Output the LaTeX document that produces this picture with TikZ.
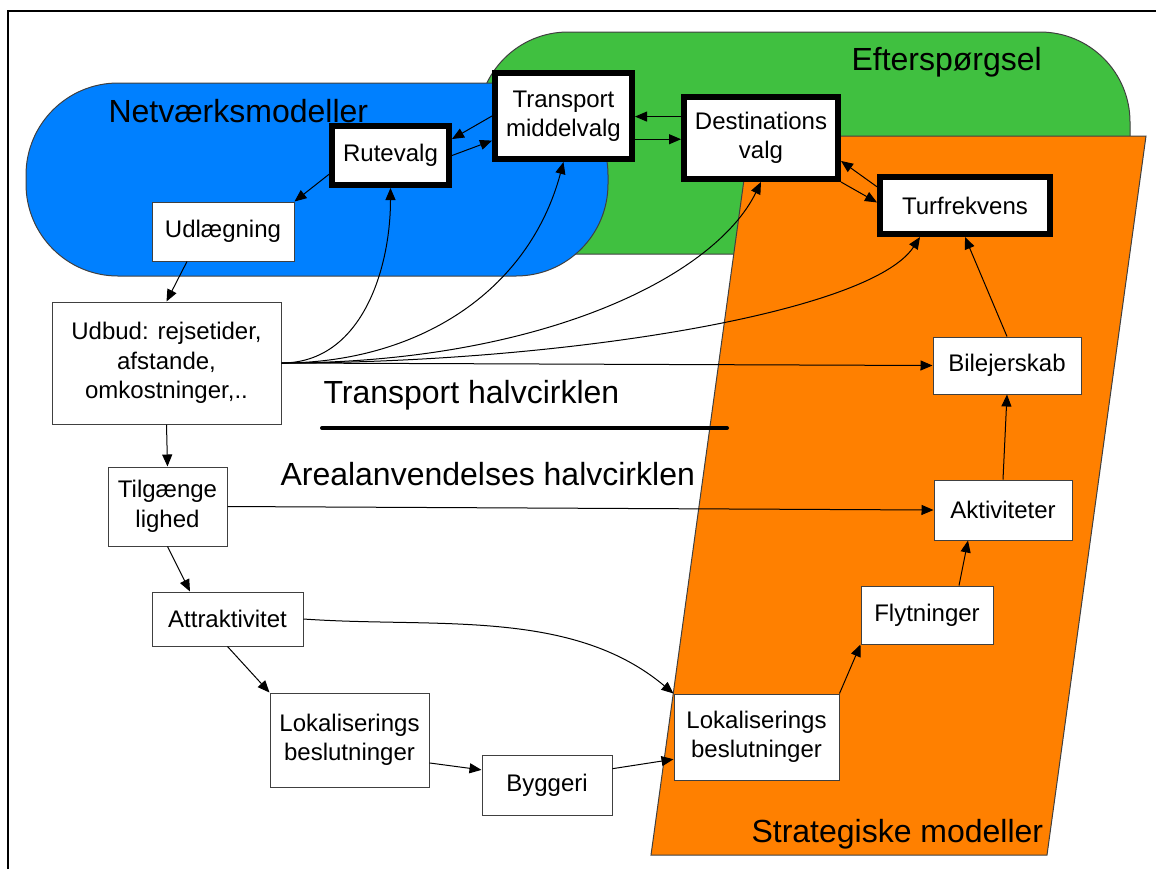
\documentclass[tikz,border=0pt]{standalone}
\usepackage{fontspec}
\setmainfont{Liberation Sans}
\usetikzlibrary{positioning, arrows.meta, calc}
\definecolor{net-blue}{RGB}{0,128,255}
\definecolor{eft-green}{RGB}{64,192,64}
\definecolor{strat-orange}{RGB}{255,128,0}
\definecolor{line-gray}{RGB}{64,64,64}

\tikzset{
  box/.style={draw=line-gray, line width=0.5pt, fill=white, inner sep=0pt, align=center,
    font=\fontsize{12}{14.75}\selectfont},
  bigbox/.style={box, draw=black, line width=3pt},
  area/.style={draw=line-gray, line width=0.5pt},
  title/.style={anchor=base west, inner sep=0pt, font=\fontsize{16}{19}\selectfont},
}

\begin{document}
\begin{tikzpicture}[x=0.5pt, y=0.5pt, line width=0.5pt, >={Triangle[length=6pt,width=5pt]}]
\useasboundingbox (0,-869) rectangle (1156,0);
% areas
\draw[area, fill=eft-green, rounded corners=45pt] (478,-32) rectangle (1130,-254);
\draw[area, fill=net-blue, rounded corners=46pt] (26,-83) rectangle (608,-276);
\draw[area, fill=strat-orange] (750,-136) -- (1146,-136) -- (1047,-855) -- (651,-855) -- cycle;
\draw[line width=1.2pt] (8,-869) -- (8,-11) -- (1156,-11);

\node[title] (netvaerk) at (108,-122) {Netværksmodeller};
\node[title] (efterspoergsel) at (851,-70) {Efterspørgsel};
\node[title] (strategisk) at (751,-842) {Strategiske modeller};
\node[title] (transporthalv) at (323,-403) {Transport halvcirklen};
\node[title] (arealhalv) at (280,-485) {Arealanvendelses halvcirklen};
\draw[line width=2pt, line cap=round] (322,-428) -- (727,-428);

% demand models
\node[bigbox, minimum width=58.5pt, minimum height=29.5pt] (rutevalg) at (390.5,-155.5) {Rutevalg};
\node[bigbox, minimum width=68.5pt, minimum height=43pt] (transport) at (563.5,-116) {Transport\\middelvalg};
\node[bigbox, minimum width=77pt, minimum height=41pt] (destinations) at (761,-138) {Destinations\\valg};
\node[bigbox, minimum width=85pt, minimum height=28.5pt] (turfrekvens) at (965,-205.5) {Turfrekvens};

% supply and land use
\node[box, minimum width=71pt, minimum height=29.5pt] (udlaegning) at (223,-231.5) {Udlægning};
\node[box, minimum width=114.5pt, minimum height=61pt] (udbud) at (166.5,-363) {Udbud: rejsetider,\\afstande,\\omkostninger,..};
\node[box, minimum width=59.5pt, minimum height=39.5pt] (tilg) at (167.5,-506.5) {Tilgænge\\lighed};
\node[box, minimum width=75.5pt, minimum height=27pt] (attrakt) at (227.5,-619) {Attraktivitet};
\node[box, minimum width=79.5pt, minimum height=47pt] (lokL) at (349.5,-740) {Lokaliserings\\beslutninger};
\node[box, minimum width=65pt, minimum height=30pt] (byggeri) at (547,-785) {Byggeri};
\node[box, minimum width=82.5pt, minimum height=43pt] (lokR) at (756.5,-737) {Lokaliserings\\beslutninger};
\node[box, minimum width=66pt, minimum height=29pt] (flytninger) at (927,-615) {Flytninger};
\node[box, minimum width=69pt, minimum height=30pt] (aktiviteter) at (1003,-510) {Aktiviteter};
\node[box, minimum width=74pt, minimum height=28.5pt] (bilejerskab) at (1007,-365.5) {Bilejerskab};

\draw
(rutevalg.197) edge[->] (udlaegning.north east)
(transport.west) edge[->] (rutevalg.15)
(rutevalg.east) edge[->] (transport.199)
(destinations.165) edge[->] (destinations.165 -| transport.east)
(transport.-18) edge[->] (transport.-18 -| destinations.west)
(turfrekvens.168) edge[->] (destinations.-16)
(destinations.south east) edge[->] (turfrekvens.178)
(bilejerskab.north) edge[->] (turfrekvens.south)
(aktiviteter.north) edge[->] (bilejerskab.south)
([xshift=16pt]flytninger.north) edge[->] ([xshift=-17.5pt]aktiviteter.south)
(lokR.north east) edge[->] (flytninger.south west)
(byggeri.14) edge[->] (lokR.195)
(lokL.-16) edge[->] (byggeri.167)
(attrakt.south) edge[->] (lokL.north west)
(attrakt.east) edge[->, out=-4, in=140, looseness=0.9] (lokR.north west)
(tilg.south) edge[->] ([xshift=-18.75pt]attrakt.north)
(tilg.east) edge[->] (aktiviteter.west)
(udbud.south) edge[->] (tilg.north)
([xshift=-18pt]udlaegning.south) edge[->] (udbud.north)
(udbud.east) edge[->] (bilejerskab.west)
(udbud.east) edge[->, out=0, in=270] (rutevalg.south)
(udbud.east) edge[->, out=0, in=255] (transport.south)
(udbud.east) edge[->, out=0, in=244, out looseness=1.29, in looseness=0.53] (destinations.south)
(udbud.east) edge[->, out=0, in=237, out looseness=1.09, in looseness=0.36] ([xshift=-22.5pt]turfrekvens.south);
\end{tikzpicture}
\end{document}
